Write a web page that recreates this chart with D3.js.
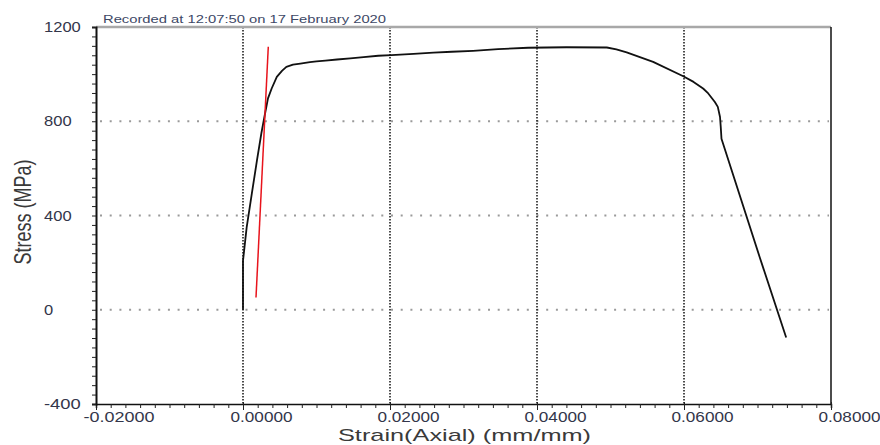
<!DOCTYPE html>
<html>
<head>
<meta charset="utf-8">
<script src="https://cdn.jsdelivr.net/npm/d3@7"></script>
<style>
  body { margin: 0; background: #fff; }
  text { font-family: "Liberation Sans", Arial, sans-serif; }
</style>
</head>
<body>
<div id="chart"></div>
<script>
// stress-strain test record
var strain = [0, 0, 0.0005, 0.0012, 0.0019, 0.0025, 0.0030, 0.0034, 0.0039, 0.0046,
  0.0053, 0.0059, 0.0068, 0.0078, 0.0091, 0.0100, 0.0112, 0.0128, 0.0146, 0.0164,
  0.0184, 0.0202, 0.0232, 0.0259, 0.0284, 0.0313, 0.0347, 0.0388, 0.0440, 0.0495,
  0.0508, 0.0522, 0.0558, 0.0599, 0.0613, 0.0626, 0.0633, 0.0642, 0.0646, 0.0649,
  0.0650, 0.0651, 0.0703, 0.0739];
var stress = [0, 208, 350, 493, 634, 749, 833, 897, 939, 988,
  1014, 1031, 1040, 1045, 1051, 1054, 1057, 1062, 1067, 1072,
  1078, 1081, 1086, 1091, 1095, 1099, 1106, 1112, 1114, 1113,
  1105, 1092, 1052, 991, 967, 939, 918, 882, 861, 818,
  776, 726, 223, -118];

// modulus (offset) line in red
var modStrain = [0.00177, 0.00344];
var modStress = [52, 1116];

var xTicks = [-0.02, 0, 0.02, 0.04, 0.06, 0.08];
var yTicks = [-400, 0, 400, 800, 1200];
var xGrid = [0, 0.02, 0.04, 0.06];
var yGrid = [0, 400, 800];
var title = "Recorded at 12:07:50 on 17 February 2020";

var width = 880, height = 445;
var margin = {top: 27, right: 49, bottom: 41, left: 96};

var svg = d3.select("#chart")
  .append("svg")
  .attr("width", width)
  .attr("height", height);

var x = d3.scaleLinear()
  .domain([-0.02, 0.08])
  .range([margin.left, width - margin.right]);
var y = d3.scaleLinear()
  .domain([-400, 1200])
  .range([height - margin.bottom, margin.top]);

var labelColor = "#33364a";

// dotted grid
svg.selectAll(".hgrid")
  .data(yGrid)
  .enter()
  .append("line")
  .attr("x1", x(-0.02) + 4)
  .attr("x2", x(0.08) - 2)
  .attr("y1", function(d){ return y(d) })
  .attr("y2", function(d){ return y(d) })
  .attr("stroke", "#9a9a9a")
  .attr("stroke-width", 2)
  .attr("stroke-dasharray", "2,7.7");

svg.selectAll(".vgrid")
  .data(xGrid)
  .enter()
  .append("line")
  .attr("x1", function(d){ return x(d) })
  .attr("x2", function(d){ return x(d) })
  .attr("y1", y(1200))
  .attr("y2", y(-400))
  .attr("stroke", "#111")
  .attr("stroke-width", 1.5)
  .attr("stroke-dasharray", "1.5,1.5");

// frame: grey top, black right
svg.append("line")
  .attr("x1", x(-0.02)).attr("x2", x(0.08))
  .attr("y1", y(1200)).attr("y2", y(1200))
  .attr("stroke", "#a8a8a8")
  .attr("stroke-width", 2.5);
svg.append("line")
  .attr("x1", x(0.08)).attr("x2", x(0.08))
  .attr("y1", y(1200)).attr("y2", y(-400))
  .attr("stroke", "#111")
  .attr("stroke-width", 1.5);

// axes with minor ticks
var xMinor = d3.range(-0.02, 0.0801, 0.002);
var yMinor = d3.range(-400, 1201, 40);

var xAxis = svg.append("g")
  .attr("transform", "translate(0," + y(-400) + ")")
  .call(d3.axisBottom(x).tickValues(xMinor).tickSize(4).tickFormat(""));
xAxis.select(".domain").attr("stroke", "#111").attr("stroke-width", 1.5);
xAxis.selectAll(".tick line").attr("stroke", "#222");
svg.append("g")
  .attr("transform", "translate(0," + y(-400) + ")")
  .call(d3.axisBottom(x).tickValues(xTicks).tickSize(6).tickFormat(""))
  .call(function(g){ g.select(".domain").remove() })
  .selectAll(".tick line").attr("stroke", "#222").attr("y1", -2);

var yAxis = svg.append("g")
  .attr("transform", "translate(" + x(-0.02) + ",0)")
  .call(d3.axisLeft(y).tickValues(yMinor).tickSize(4).tickFormat(""));
yAxis.select(".domain").attr("stroke", "#111").attr("stroke-width", 2);
yAxis.selectAll(".tick line").attr("stroke", "#222");

// tick labels (left aligned, like the original export)
svg.selectAll(".ylab")
  .data(yTicks)
  .enter()
  .append("text")
  .attr("x", 44)
  .attr("y", function(d){ return y(d) + 5 })
  .attr("font-size", 14)
  .attr("fill", labelColor)
  .attr("textLength", function(d){ return String(d).length * 9.2 })
  .attr("lengthAdjust", "spacingAndGlyphs")
  .text(function(d){ return d });

svg.selectAll(".xlab")
  .data(xTicks)
  .enter()
  .append("text")
  .attr("x", function(d){ return x(d) - 12.5 })
  .attr("y", 422)
  .attr("font-size", 14)
  .attr("fill", labelColor)
  .attr("textLength", function(d){ return d < 0 ? 71 : 62 })
  .attr("lengthAdjust", "spacingAndGlyphs")
  .text(function(d){ return d3.format(".5f")(d).replace("−", "-") });

// titles
svg.append("text")
  .attr("x", 103)
  .attr("y", 23)
  .attr("font-size", 11.5)
  .attr("fill", "#3d4866")
  .attr("textLength", 283)
  .attr("lengthAdjust", "spacingAndGlyphs")
  .text(title);

svg.append("text")
  .attr("x", 338)
  .attr("y", 440.5)
  .attr("font-size", 17)
  .attr("fill", "#3a3a3a")
  .attr("textLength", 253)
  .attr("lengthAdjust", "spacingAndGlyphs")
  .text("Strain(Axial) (mm/mm)");

svg.append("text")
  .attr("transform", "translate(31,212) scale(1.3,1) rotate(-90)")
  .attr("text-anchor", "middle")
  .attr("font-size", 18)
  .attr("fill", "#3a3a3a")
  .text("Stress (MPa)");

// curves
var pts = strain.map(function(d, i){ return [d, stress[i]] });
var line = d3.line()
  .x(function(d){ return x(d[0]) })
  .y(function(d){ return y(d[1]) });

svg.append("path")
  .datum(pts)
  .attr("d", line)
  .attr("fill", "none")
  .attr("stroke", "#111")
  .attr("stroke-width", 1.8)
  .attr("stroke-linejoin", "round");

svg.append("path")
  .datum(modStrain.map(function(d, i){ return [d, modStress[i]] }))
  .attr("d", line)
  .attr("fill", "none")
  .attr("stroke", "#e8141c")
  .attr("stroke-width", 1.5);
</script>
</body>
</html>
